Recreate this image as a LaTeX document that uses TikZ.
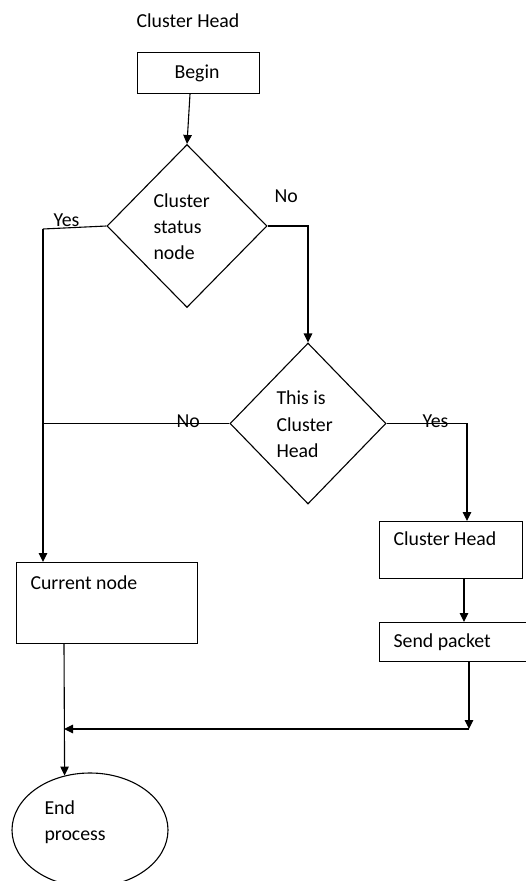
\documentclass[tikz,border=0pt]{standalone}
\usepackage{fontspec}
\setmainfont{Carlito}
\usetikzlibrary{shapes.geometric,arrows.meta}
\begin{document}
\begin{tikzpicture}[x=1pt,y=-1pt,line width=1.1pt,
  arr/.style={-{Triangle[length=9pt,width=8.5pt]}},
  boxnode/.style={draw,rectangle,inner sep=0,anchor=north west},
  dia/.style={draw,diamond,inner sep=0},
  txt/.style={anchor=base west,inner sep=0,font=\fontsize{19.8}{23}\selectfont}]
\useasboundingbox (0,0) rectangle (526,881);
% title
\node[txt,anchor=base] (title) at (188,27) {Cluster Head};
% shapes
\node[boxnode,minimum width=122,minimum height=41] (begin) at (137,52) {};
\node[dia,minimum width=160,minimum height=163] (d1) at (187,226) {};
\node[dia,minimum width=156,minimum height=161] (d2) at (308,423.5) {};
\node[boxnode,minimum width=181,minimum height=81] (cur) at (16,562) {};
\node[boxnode,minimum width=143,minimum height=57] (ch) at (379,521) {};
\node[boxnode,minimum width=147,minimum height=39] (sp) at (379,622) {};
\node[draw,ellipse,minimum width=156,minimum height=114,inner sep=0] (end) at (90,830) {};
% texts
\node[txt,anchor=base] (tbegin) at (197,78) {Begin};
\node[txt] (d1a) at (153,207) {Cluster};
\node[txt] (d1b) at (153,233) {status};
\node[txt] (d1c) at (153,259) {node};
\node[txt] (d2a) at (276,404) {This is};
\node[txt] (d2b) at (276,431) {Cluster};
\node[txt] (d2c) at (276,457) {Head};
\node[txt] (tcur) at (30,589) {Current node};
\node[txt] (tch) at (393,545) {Cluster Head};
\node[txt] (tsp) at (393,647) {Send packet};
\node[txt] (te1) at (44,814) {End};
\node[txt] (te2) at (44,840) {process};
\node[txt] (lyes1) at (53,226) {Yes};
\node[txt] (lno1) at (274,202) {No};
\node[txt] (lno2) at (176,427) {No};
\node[txt] (lyes2) at (422,427) {Yes};
% junction coordinates
\coordinate (jy) at (43,229);
\coordinate (jr) at (467,427);
\coordinate (c1) at (464,0);
\coordinate (c2) at (469,729);
\coordinate (c3) at (64,729);
% connectors
\draw[arr] (begin.south -| 190,0) -- (d1.north);
\draw (d1.west) -- (jy);
\draw[arr] (jy) -- (jy |- cur.north);
\draw[arr] (d1.east) -| (d2.north);
\draw (d2.west) -- (d2.west -| jy);
\draw[arr] (d2.east) -| (jr |- ch.north);
\draw[arr] (c1 |- ch.south) -- (c1 |- sp.north);
\draw[arr] (c2 |- sp.south) -- (c2);
\draw[arr] (c2) -- (c3);
\draw[arr] (c3 |- cur.south) -- (end.115);
\end{tikzpicture}
\end{document}
